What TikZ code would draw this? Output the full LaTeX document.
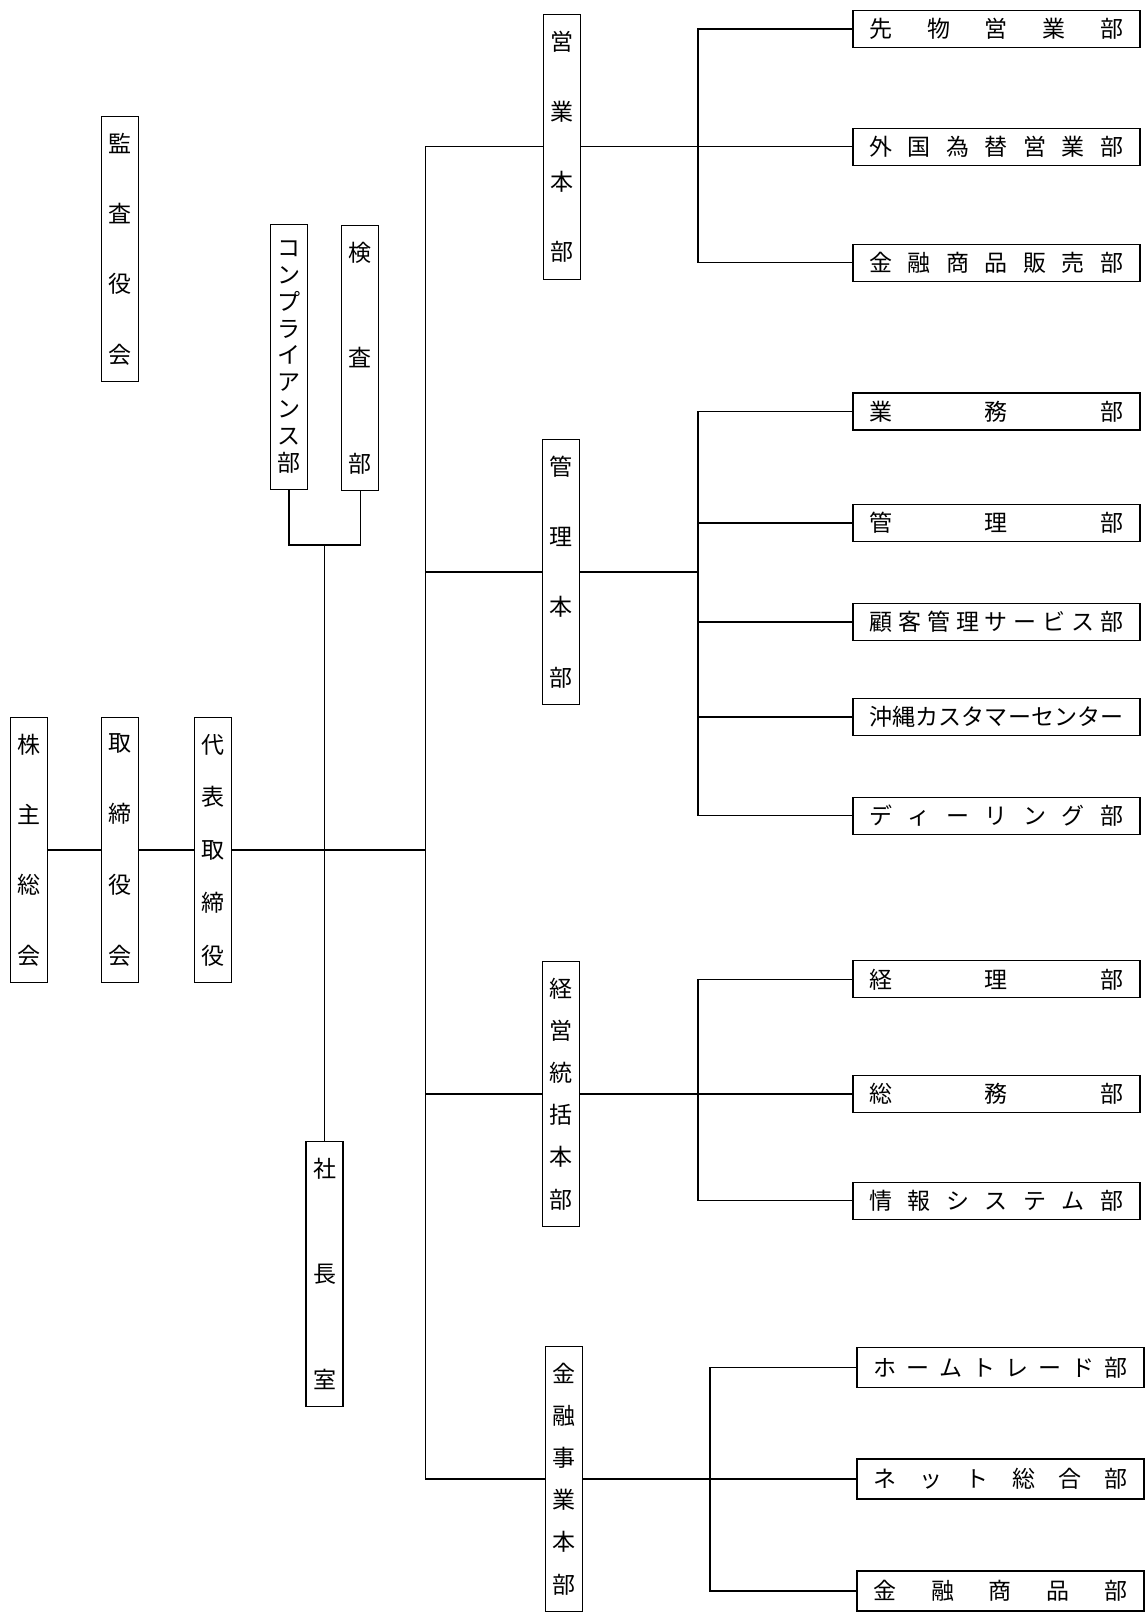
\documentclass[tikz,border=0pt]{standalone}
\usepackage{fontspec}
\newfontfamily\cjk{Noto Sans CJK JP}
\usepackage{tikz}
\newcommand{\vbr}{\par\vfill}
\newcommand{\tate}[1]{\parbox[c][115pt][s]{18pt}{\centering #1}}
\newcommand{\yoko}[1]{\makebox[127pt]{#1}}
\tikzset{
  tatebox/.style={draw, line width=0.6pt, inner sep=0pt, minimum width=18.5pt, minimum height=132.5pt, font=\cjk\fontsize{11.5}{13}\selectfont},
  yokobox/.style={draw, line width=0.6pt, inner sep=0pt, minimum width=143.5pt, minimum height=18.5pt, font=\cjk\fontsize{11.5}{13}\selectfont},
}

\begin{document}
\begin{tikzpicture}[x={(0.5pt,0pt)}, y={(0pt,-0.5pt)}, line width=0.6pt]
        \useasboundingbox (0,0) rectangle (1145,1619);
        % left column
        \node[tatebox] (kansa) at (119.8,249) {\tate{監\vbr 査\vbr 役\vbr 会}};
        \node[tatebox] (kabunushi) at (28.9,850) {\tate{株\vbr 主\vbr 総\vbr 会}};
        \node[tatebox] (torishimari) at (119.8,850) {\tate{取\vbr 締\vbr 役\vbr 会}};
        \node[tatebox] (daihyo) at (212.7,850) {\tate{代\vbr 表\vbr 取\vbr 締\vbr 役}};
        \node[tatebox] (compliance) at (289,357) {\tate{コ\vbr ン\vbr プ\vbr ラ\vbr イ\vbr ア\vbr ン\vbr ス\vbr 部}};
        \node[tatebox] (kensa) at (360.3,358) {\tate{検\vbr 査\vbr 部}};
        \node[tatebox] (shacho) at (324.5,1273.6) {\tate{社\vbr 長\vbr 室}};
        % honbu
        \node[tatebox] (eigyo) at (561.7,146.6) {\tate{営\vbr 業\vbr 本\vbr 部}};
        \node[tatebox] (kanri) at (560.6,572) {\tate{管\vbr 理\vbr 本\vbr 部}};
        \node[tatebox] (keiei) at (560.6,1094) {\tate{経\vbr 営\vbr 統\vbr 括\vbr 本\vbr 部}};
        \node[tatebox] (kinyu) at (563.7,1479) {\tate{金\vbr 融\vbr 事\vbr 業\vbr 本\vbr 部}};
        % bu
        \node[yokobox] (sakimono) at (996.4,28.9) {\yoko{先\hfill 物\hfill 営\hfill 業\hfill 部}};
        \node[yokobox] (gaikoku) at (996.4,146.6) {\yoko{外\hfill 国\hfill 為\hfill 替\hfill 営\hfill 業\hfill 部}};
        \node[yokobox] (hanbai) at (996.4,262.8) {\yoko{金\hfill 融\hfill 商\hfill 品\hfill 販\hfill 売\hfill 部}};
        \node[yokobox] (gyomu) at (996.4,411.5) {\yoko{業\hfill 務\hfill 部}};
        \node[yokobox] (kanribu) at (996.4,523) {\yoko{管\hfill 理\hfill 部}};
        \node[yokobox] (kokyaku) at (996.4,622) {\yoko{顧\hfill 客\hfill 管\hfill 理\hfill サ\hfill ー\hfill ビ\hfill ス\hfill 部}};
        \node[yokobox] (okinawa) at (996.4,717) {\yoko{沖\hfill 縄\hfill カ\hfill ス\hfill タ\hfill マ\hfill ー\hfill セ\hfill ン\hfill タ\hfill ー}};
        \node[yokobox] (dealing) at (996.4,815.7) {\yoko{デ\hfill ィ\hfill ー\hfill リ\hfill ン\hfill グ\hfill 部}};
        \node[yokobox] (keiri) at (996.4,979.3) {\yoko{経\hfill 理\hfill 部}};
        \node[yokobox] (somu) at (996.4,1094) {\yoko{総\hfill 務\hfill 部}};
        \node[yokobox] (joho) at (996.4,1200.8) {\yoko{情\hfill 報\hfill シ\hfill ス\hfill テ\hfill ム\hfill 部}};
        \node[yokobox, minimum height=20pt] (home) at (1000.5,1367.5) {\yoko{ホ\hfill ー\hfill ム\hfill ト\hfill レ\hfill ー\hfill ド\hfill 部}};
        \node[yokobox, minimum height=20pt] (net) at (1000.5,1479) {\yoko{ネ\hfill ッ\hfill ト\hfill 総\hfill 合\hfill 部}};
        \node[yokobox, minimum height=20pt] (shohin) at (1000.5,1591) {\yoko{金\hfill 融\hfill 商\hfill 品\hfill 部}};
        % junctions
        \coordinate (trunk) at (425.4,850);
        \coordinate (brk) at (324.5,545);
        \coordinate (eigyo-br) at (698,146.6);
        \coordinate (kanri-br) at (698,572);
        \coordinate (keiei-br) at (698,1094);
        \coordinate (kinyu-br) at (710,1479);
        % lines
        \draw (kabunushi) -- (torishimari);
        \draw (torishimari) -- (daihyo);
        \draw (daihyo) -- (trunk);
        \draw (compliance.south) |- (brk) -| (kensa.south);
        \draw (brk) -- (shacho.north);
        \draw (eigyo.west) -| (trunk) |- (kinyu.west);
        \draw (kanri.west) -- (kanri.west -| trunk);
        \draw (keiei.west) -- (keiei.west -| trunk);
        \draw (eigyo.east) -- (gaikoku.west);
        \draw (sakimono.west) -| (eigyo-br) |- (hanbai.west);
        \draw (kanri.east) -- (kanri-br);
        \draw (gyomu.west) -| (kanri-br) |- (dealing.west);
        \foreach \n in {kanribu,kokyaku,okinawa}
            \draw (\n.west) -- (\n.west -| kanri-br);
        \draw (keiei.east) -- (somu.west);
        \draw (keiri.west) -| (keiei-br) |- (joho.west);
        \draw (kinyu.east) -- (net.west);
        \draw (home.west) -| (kinyu-br) |- (shohin.west);
    \end{tikzpicture}
\end{document}
